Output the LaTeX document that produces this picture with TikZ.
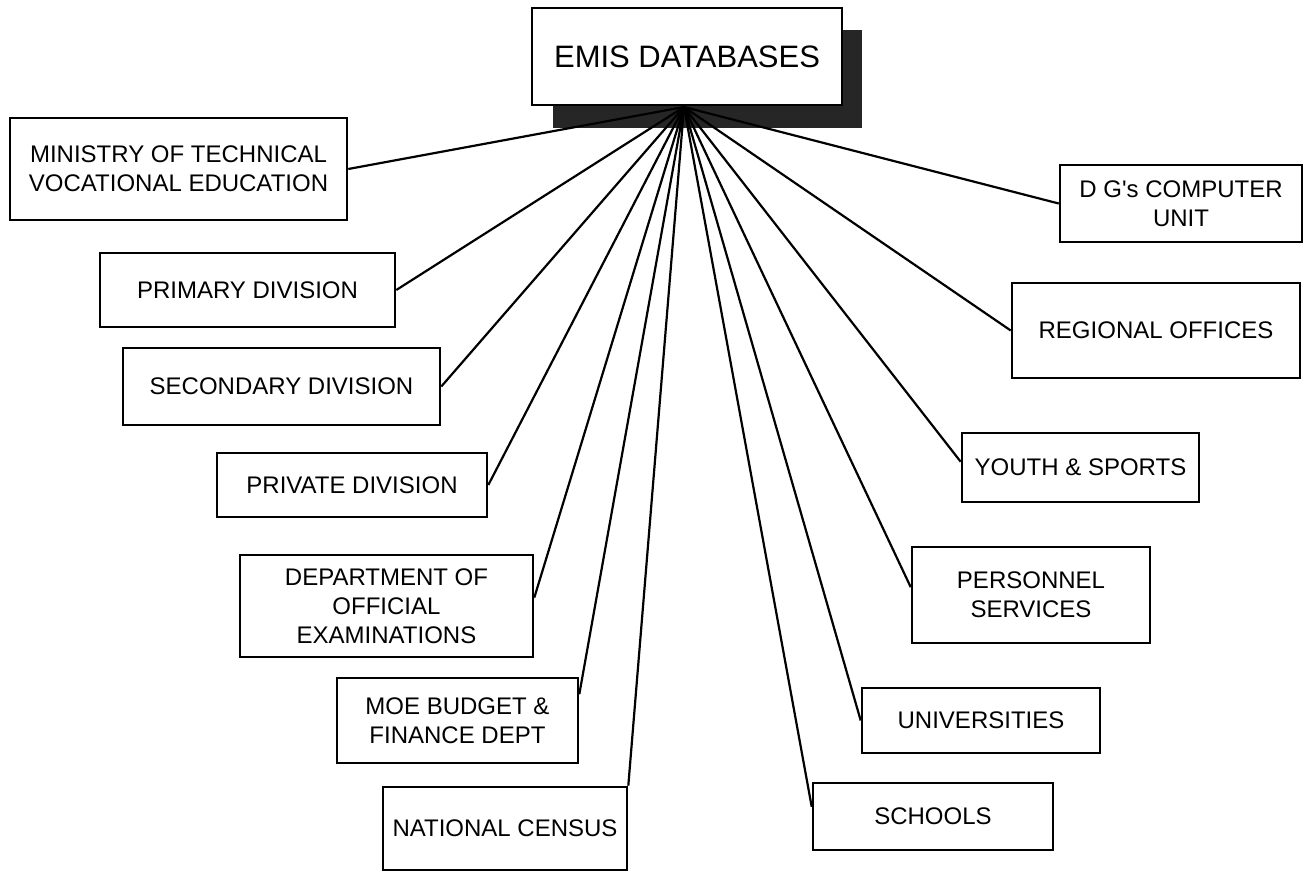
\documentclass[tikz,border=0pt]{standalone}
\usepackage{fontspec}
\setmainfont{Liberation Sans}[Ligatures=TeXOff]
\usetikzlibrary{calc}
\begin{document}
\begin{tikzpicture}[x=1pt,y=-1pt,
  box/.style={draw, line width=2.6pt, fill=white, align=center, inner sep=0pt,
    font=\fontsize{24}{29}\selectfont},
  link/.style={line width=2.2pt},
  shadowfill/.style={fill=black!85}]
\useasboundingbox (0,0) rectangle (1307,874);
\fill[shadowfill] (553,30) rectangle (862,128);
\coordinate (hub) at (684,107);
% boxes
\node[box, minimum width=337, minimum height=102] (min) at (178.5,169) {MINISTRY OF TECHNICAL\\VOCATIONAL EDUCATION};
\node[box, minimum width=295, minimum height=74] (prim) at (247.5,290) {PRIMARY DIVISION};
\node[box, minimum width=317, minimum height=77] (sec) at (281.5,386.5) {SECONDARY DIVISION};
\node[box, minimum width=270, minimum height=64] (priv) at (352,485) {PRIVATE DIVISION};
\node[box, minimum width=293, minimum height=102] (dept) at (386.5,606) {DEPARTMENT OF\\OFFICIAL\\EXAMINATIONS};
\node[box, minimum width=241, minimum height=85] (moe) at (457.5,720.5) {MOE BUDGET \&\\FINANCE DEPT};
\node[box, minimum width=244, minimum height=83] (cens) at (505,828.5) {NATIONAL CENSUS};
\node[box, minimum width=242, minimum height=77] (dg) at (1181,203.5) {D G's COMPUTER\\UNIT};
\node[box, minimum width=288, minimum height=95] (reg) at (1156,330.5) {REGIONAL OFFICES};
\node[box, minimum width=237, minimum height=69] (youth) at (1080.5,467.5) {YOUTH \& SPORTS};
\node[box, minimum width=238, minimum height=96] (pers) at (1031,595) {PERSONNEL\\SERVICES};
\node[box, minimum width=238, minimum height=65] (univ) at (981,720.5) {UNIVERSITIES};
\node[box, minimum width=240, minimum height=67] (sch) at (933,816.5) {SCHOOLS};
% connectors
\draw[link] (hub) -- (min.east);
\draw[link] (hub) -- (prim.east);
\draw[link] (hub) -- (sec.east);
\draw[link] (hub) -- (priv.east);
\draw[link] (hub) -- ($(dept.north east)!0.42!(dept.south east)$);
\draw[link] (hub) -- ($(moe.north east)!0.2!(moe.south east)$);
\draw[link] (hub) -- (cens.north east);
\draw[link] (hub) -- (dg.west);
\draw[link] (hub) -- (reg.west);
\draw[link] (hub) -- ($(youth.north west)!0.42!(youth.south west)$);
\draw[link] (hub) -- ($(pers.north west)!0.42!(pers.south west)$);
\draw[link] (hub) -- (univ.west);
\draw[link] (hub) -- ($(sch.north west)!0.36!(sch.south west)$);
% top box
\node[box, font=\fontsize{31}{36}\selectfont, minimum width=310, minimum height=97] (emis) at (687,56.5) {EMIS DATABASES};
\end{tikzpicture}
\end{document}
